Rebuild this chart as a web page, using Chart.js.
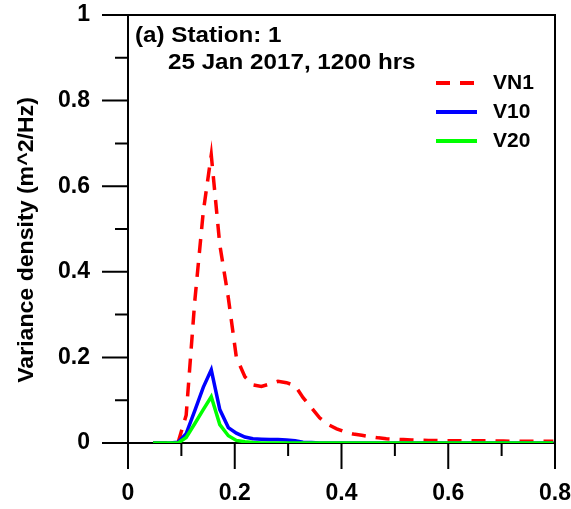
<!DOCTYPE html>
<html>
<head>
<meta charset="utf-8">
<title>Variance density spectrum</title>
<script src="https://cdn.jsdelivr.net/npm/chart.js@4.4.1/dist/chart.umd.min.js"></script>
<style>
  html, body { margin: 0; padding: 0; background: #fff; }
  #wrap { width: 571px; height: 509px; position: relative; }
</style>
</head>
<body>
<div id="wrap"><canvas id="spectrumChart"></canvas></div>
<script>
// frequency (Hz) and spectra
const freq = [0.047, 0.063, 0.078, 0.094, 0.109, 0.125, 0.141, 0.156, 0.172, 0.188,
              0.203, 0.219, 0.234, 0.25, 0.266, 0.281, 0.297, 0.313, 0.328, 0.344,
              0.359, 0.375, 0.391, 0.406, 0.422, 0.438, 0.453, 0.469, 0.484, 0.5,
              0.516, 0.531, 0.547, 0.563, 0.578, 0.594, 0.609, 0.625, 0.641, 0.656,
              0.672, 0.688, 0.703, 0.719, 0.734, 0.75, 0.766, 0.781, 0.797];
const vn1 = [0, 0, 0, 0.002, 0.065, 0.33, 0.54, 0.673, 0.463, 0.339,
             0.2, 0.155, 0.136, 0.132, 0.138, 0.144, 0.141, 0.134, 0.106, 0.082,
             0.059, 0.043, 0.033, 0.026, 0.021, 0.018, 0.015, 0.012, 0.01, 0.009,
             0.008, 0.007, 0.0065, 0.006, 0.006, 0.0055, 0.0055, 0.005, 0.005, 0.005,
             0.005, 0.0045, 0.0045, 0.004, 0.004, 0.004, 0.004, 0.004, 0.004];
const v10 = [0, 0, 0, 0.002, 0.022, 0.075, 0.13, 0.171, 0.078, 0.036,
             0.023, 0.014, 0.01, 0.009, 0.008, 0.008, 0.007, 0.005, 0.002, 0.001,
             0, 0, 0, 0, 0, 0, 0, 0, 0, 0,
             0, 0, 0, 0, 0, 0, 0, 0, 0, 0,
             0, 0, 0, 0, 0, 0, 0, 0, 0];
const v20 = [0, 0, 0, 0, 0.013, 0.045, 0.078, 0.108, 0.043, 0.017,
             0.006, 0.003, 0.001, 0, 0, 0, 0, 0, 0, 0,
             0, 0, 0, 0, 0, 0, 0, 0, 0, 0,
             0, 0, 0, 0, 0, 0, 0, 0, 0, 0,
             0, 0, 0, 0, 0, 0, 0, 0, 0];

const xTicks = [0, 0.2, 0.4, 0.6, 0.8];
const xMinorTicks = [0.1, 0.3, 0.5, 0.7];
const yTicks = [0, 0.2, 0.4, 0.6, 0.8, 1];
const yMinorTicks = [0.1, 0.3, 0.5, 0.7, 0.9];

const titleLines = ['(a) Station: 1', '25 Jan 2017, 1200 hrs'];
const yTitle = 'Variance density (m^2/Hz)';

const FONT = '"Liberation Sans", Arial, sans-serif';

function toPoints(values) {
  return freq.map((f, i) => ({ x: f, y: values[i] }));
}

// labels are allowed to hang outside the plot, so drop the extra scale padding
function noOverhang(s) {
  s.paddingLeft = 0; s.paddingRight = 0; s.paddingTop = 0; s.paddingBottom = 0;
}

// the original lettering is a bit wider than Liberation Sans
function wideText(ctx, text, x, y, stretch) {
  ctx.save();
  ctx.translate(x, y);
  ctx.scale(stretch, 1);
  ctx.fillText(text, 0, 0);
  ctx.restore();
}

// box round the plot plus long/short tick marks outside it
const frameAndTicks = {
  id: 'frameAndTicks',
  afterDraw(chart) {
    const { ctx, chartArea: a, scales: { x, y } } = chart;
    ctx.save();
    ctx.strokeStyle = '#000';
    ctx.lineWidth = 2;
    ctx.beginPath();
    ctx.moveTo(a.left, a.top);
    ctx.lineTo(a.right, a.top);
    ctx.lineTo(a.right, a.bottom);
    xTicks.forEach(v => {
      const px = x.getPixelForValue(v);
      ctx.moveTo(px, a.bottom); ctx.lineTo(px, a.bottom + 26);
    });
    xMinorTicks.forEach(v => {
      const px = x.getPixelForValue(v);
      ctx.moveTo(px, a.bottom); ctx.lineTo(px, a.bottom + 13);
    });
    yTicks.forEach(v => {
      const py = y.getPixelForValue(v);
      ctx.moveTo(a.left - 26, py); ctx.lineTo(a.left, py);
    });
    yMinorTicks.forEach(v => {
      const py = y.getPixelForValue(v);
      ctx.moveTo(a.left - 13, py); ctx.lineTo(a.left, py);
    });
    ctx.stroke();
    ctx.restore();
  }
};

// station title, legend and y axis title
const annotations = {
  id: 'annotations',
  afterDraw(chart) {
    const { ctx } = chart;
    ctx.save();
    ctx.fillStyle = '#000';
    ctx.textBaseline = 'middle';
    ctx.textAlign = 'left';
    ctx.font = 'bold 22px ' + FONT;
    wideText(ctx, titleLines[0], 135, 36, 1.1);
    wideText(ctx, titleLines[1], 168, 63, 1.1);

    ctx.font = 'bold 20px ' + FONT;
    chart.data.datasets.forEach((ds, i) => {
      const yy = 83 + i * 29;
      ctx.strokeStyle = ds.borderColor;
      ctx.lineWidth = 4;
      ctx.setLineDash(ds.borderDash || []);
      ctx.beginPath();
      ctx.moveTo(436, yy);
      ctx.lineTo(477, yy);
      ctx.stroke();
      ctx.setLineDash([]);
      wideText(ctx, ds.label, 493, yy, 1.05);
    });

    ctx.translate(27, 240);
    ctx.rotate(-Math.PI / 2);
    ctx.textAlign = 'center';
    ctx.font = 'bold 22px ' + FONT;
    wideText(ctx, yTitle, 0, 0, 1.05);
    ctx.restore();
  }
};

const ctx = document.getElementById('spectrumChart').getContext('2d');
new Chart(ctx, {
  type: 'line',
  data: {
    datasets: [
      { label: 'VN1', data: toPoints(vn1), borderColor: '#ff0000', borderWidth: 3.5,
        borderDash: [14, 10], pointRadius: 0, tension: 0, fill: false, order: 3 },
      { label: 'V10', data: toPoints(v10), borderColor: '#0000ff', borderWidth: 3.5,
        pointRadius: 0, tension: 0, fill: false, order: 2 },
      { label: 'V20', data: toPoints(v20), borderColor: '#00ff00', borderWidth: 3.5,
        pointRadius: 0, tension: 0, fill: false, order: 1 }
    ]
  },
  options: {
    responsive: true,
    maintainAspectRatio: false,
    animation: false,
    layout: { padding: { top: 15, right: 16, left: 0, bottom: 0 } },
    plugins: { legend: { display: false }, tooltip: { enabled: false } },
    scales: {
      x: {
        type: 'linear', min: 0, max: 0.8,
        grid: { display: false, drawTicks: false },
        border: { display: true, color: '#000', width: 2 },
        afterBuildTicks: s => { s.ticks = xTicks.map(v => ({ value: v })); },
        afterFit: s => { s.height = 66; noOverhang(s); },
        ticks: {
          callback: v => String(v), color: '#000', padding: 37, maxRotation: 0,
          font: { family: FONT, size: 23, weight: 'bold' }
        }
      },
      y: {
        type: 'linear', min: 0, max: 1,
        grid: { display: false, drawTicks: false },
        border: { display: true, color: '#000', width: 2 },
        afterBuildTicks: s => { s.ticks = yTicks.map(v => ({ value: v })); },
        afterFit: s => { s.width = 128; noOverhang(s); },
        ticks: {
          callback: v => String(v), color: '#000', padding: 38,
          font: { family: FONT, size: 23, weight: 'bold' }
        }
      }
    }
  },
  plugins: [frameAndTicks, annotations]
});
</script>
</body>
</html>
